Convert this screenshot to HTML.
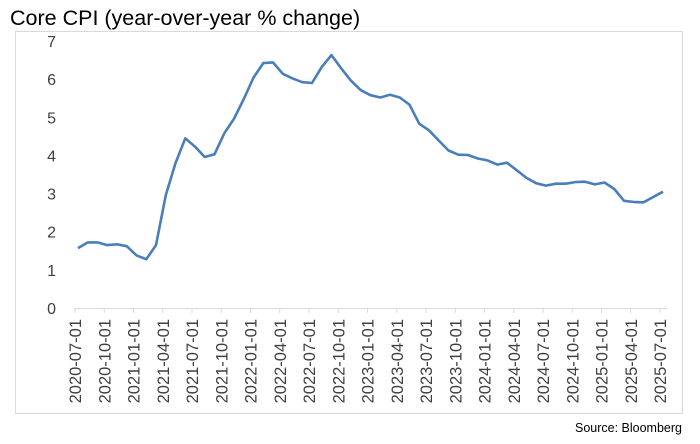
<!DOCTYPE html>
<html><head><meta charset="utf-8"><style>
body{margin:0;background:#fff;font-family:"Liberation Sans",sans-serif;}
#wrap{position:relative;width:700px;height:444px;overflow:hidden;}
</style></head><body>
<div id="wrap">
<svg id="chart" width="700" height="444">
<text x="10" y="25" font-size="21.5" fill="#000" font-family="Liberation Sans, sans-serif">Core CPI (year-over-year % change)</text>
<rect x="15.5" y="31.5" width="667" height="382" fill="none" stroke="#d9d9d9"/>
<g id="yaxis"></g>
<g id="xaxis"></g>
<path id="line" fill="none" stroke="#4a7ebb" stroke-width="2.6" stroke-linejoin="round"/>
<text x="682" y="432" font-size="12.5" text-anchor="end" fill="#000">Source: Bloomberg</text>
</svg>
</div>
<script>
const yTicks = [0,1,2,3,4,5,6,7];
const xTickLabels = ["2020-07-01","2020-10-01","2021-01-01","2021-04-01","2021-07-01","2021-10-01","2022-01-01","2022-04-01","2022-07-01","2022-10-01","2023-01-01","2023-04-01","2023-07-01","2023-10-01","2024-01-01","2024-04-01","2024-07-01","2024-10-01","2025-01-01","2025-04-01","2025-07-01"];
const coreCpi = [1.57,1.72,1.72,1.65,1.67,1.62,1.38,1.28,1.65,2.96,3.8,4.45,4.23,3.96,4.03,4.58,4.96,5.48,6.04,6.42,6.44,6.14,6.02,5.92,5.90,6.32,6.63,6.28,5.96,5.71,5.58,5.52,5.59,5.52,5.33,4.83,4.66,4.39,4.13,4.02,4.01,3.92,3.87,3.76,3.81,3.61,3.41,3.27,3.21,3.26,3.26,3.30,3.31,3.24,3.29,3.12,2.81,2.78,2.77,2.91,3.05];
const NS="http://www.w3.org/2000/svg";
const x0=78, x1=663, y0=308, yTop=41, yMax=7;
function xs(i){return x0+(x1-x0)*i/(coreCpi.length-1);}
function ys(v){return y0-(y0-yTop)*v/yMax;}
const ya=document.getElementById('yaxis');
yTicks.forEach(t=>{
  const tx=document.createElementNS(NS,'text');
  tx.setAttribute('x',56);tx.setAttribute('y',ys(t)+6);
  tx.setAttribute('text-anchor','end');tx.setAttribute('font-size','16');tx.setAttribute('fill','#404040');
  tx.textContent=t;
  
  
  ya.appendChild(tx);
});
const xa=document.getElementById('xaxis');
const ax=document.createElementNS(NS,'line');
ax.setAttribute('x1',74);ax.setAttribute('x2',667);ax.setAttribute('y1',y0+0.5);ax.setAttribute('y2',y0+0.5);
ax.setAttribute('stroke','#d9d9d9');


xa.appendChild(ax);
xTickLabels.forEach((l,k)=>{
  const px=xs(k*3)-3;
  const tk=document.createElementNS(NS,'line');
  tk.setAttribute('x1',px);tk.setAttribute('x2',px);tk.setAttribute('y1',y0);tk.setAttribute('y2',y0+5);
  tk.setAttribute('stroke','#d9d9d9');
  
  
  xa.appendChild(tk);
  const tx=document.createElementNS(NS,'text');
  tx.setAttribute('transform','translate('+(px+6)+','+(y0+11)+') rotate(-90)');
  tx.setAttribute('text-anchor','end');tx.setAttribute('font-size','16.5');tx.setAttribute('fill','#404040');
  tx.textContent=l;
  
  
  xa.appendChild(tx);
});
document.getElementById('line').setAttribute('d',coreCpi.map((v,i)=>(i?'L':'M')+xs(i).toFixed(1)+','+ys(v).toFixed(1)).join(''));
</script>
</body></html>
